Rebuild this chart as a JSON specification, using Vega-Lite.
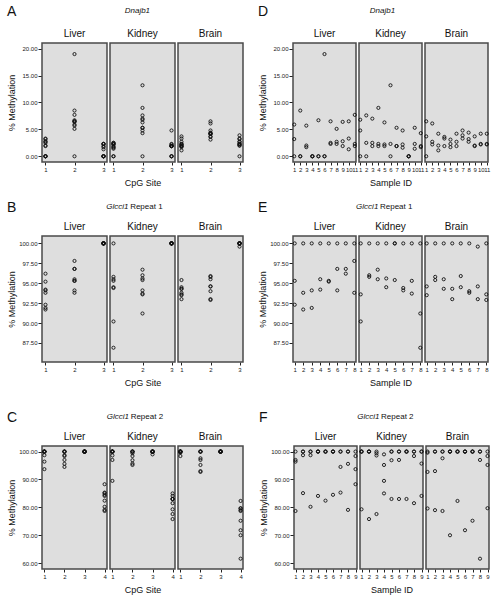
{
"$schema": "https://vega.github.io/schema/vega-lite/v6.json",
"padding": {"left": 7, "top": 5, "right": 0, "bottom": 0},
"background": "white",
"datasets": {
"dn": [
{"t":"Liver","s":1,"c":1,"v":3.2},{"t":"Liver","s":1,"c":2,"v":5.9},{"t":"Liver","s":1,"c":3,"v":0},
{"t":"Liver","s":2,"c":1,"v":0},{"t":"Liver","s":2,"c":2,"v":8.5},{"t":"Liver","s":2,"c":3,"v":0},
{"t":"Liver","s":3,"c":1,"v":2.0},{"t":"Liver","s":3,"c":2,"v":5.7},{"t":"Liver","s":3,"c":3,"v":1.7},
{"t":"Liver","s":4,"c":1,"v":0},{"t":"Liver","s":4,"c":2,"v":0},{"t":"Liver","s":4,"c":3,"v":0},
{"t":"Liver","s":5,"c":1,"v":0},{"t":"Liver","s":5,"c":2,"v":6.7},{"t":"Liver","s":5,"c":3,"v":0},
{"t":"Liver","s":6,"c":1,"v":0},{"t":"Liver","s":6,"c":2,"v":19.0},{"t":"Liver","s":6,"c":3,"v":0},
{"t":"Liver","s":7,"c":1,"v":2.5},{"t":"Liver","s":7,"c":2,"v":6.5},{"t":"Liver","s":7,"c":3,"v":2.3},
{"t":"Liver","s":8,"c":1,"v":2.7},{"t":"Liver","s":8,"c":2,"v":5.1},{"t":"Liver","s":8,"c":3,"v":2.3},
{"t":"Liver","s":9,"c":1,"v":2.8},{"t":"Liver","s":9,"c":2,"v":6.4},{"t":"Liver","s":9,"c":3,"v":1.9},
{"t":"Liver","s":10,"c":1,"v":3.3},{"t":"Liver","s":10,"c":2,"v":6.5},{"t":"Liver","s":10,"c":3,"v":1.3},
{"t":"Liver","s":11,"c":1,"v":1.9},{"t":"Liver","s":11,"c":2,"v":7.7},{"t":"Liver","s":11,"c":3,"v":2.3},
{"t":"Kidney","s":1,"c":1,"v":0},{"t":"Kidney","s":1,"c":2,"v":6.8},{"t":"Kidney","s":1,"c":3,"v":4.8},
{"t":"Kidney","s":2,"c":1,"v":2.5},{"t":"Kidney","s":2,"c":2,"v":7.6},{"t":"Kidney","s":2,"c":3,"v":0},
{"t":"Kidney","s":3,"c":1,"v":2.5},{"t":"Kidney","s":3,"c":2,"v":7.0},{"t":"Kidney","s":3,"c":3,"v":1.9},
{"t":"Kidney","s":4,"c":1,"v":2.3},{"t":"Kidney","s":4,"c":2,"v":9.0},{"t":"Kidney","s":4,"c":3,"v":1.9},
{"t":"Kidney","s":5,"c":1,"v":2.2},{"t":"Kidney","s":5,"c":2,"v":6.3},{"t":"Kidney","s":5,"c":3,"v":1.9},
{"t":"Kidney","s":6,"c":1,"v":2.3},{"t":"Kidney","s":6,"c":2,"v":13.2},{"t":"Kidney","s":6,"c":3,"v":0},
{"t":"Kidney","s":7,"c":1,"v":1.9},{"t":"Kidney","s":7,"c":2,"v":5.3},{"t":"Kidney","s":7,"c":3,"v":1.9},
{"t":"Kidney","s":8,"c":1,"v":1.6},{"t":"Kidney","s":8,"c":2,"v":4.8},{"t":"Kidney","s":8,"c":3,"v":2.2},
{"t":"Kidney","s":9,"c":1,"v":0},{"t":"Kidney","s":9,"c":2,"v":0},{"t":"Kidney","s":9,"c":3,"v":0},
{"t":"Kidney","s":10,"c":1,"v":1.4},{"t":"Kidney","s":10,"c":2,"v":5.3},{"t":"Kidney","s":10,"c":3,"v":2.3},
{"t":"Kidney","s":11,"c":1,"v":1.7},{"t":"Kidney","s":11,"c":2,"v":4.3},{"t":"Kidney","s":11,"c":3,"v":1.9},
{"t":"Brain","s":1,"c":1,"v":3.7},{"t":"Brain","s":1,"c":2,"v":6.5},{"t":"Brain","s":1,"c":3,"v":0},
{"t":"Brain","s":2,"c":1,"v":2.2},{"t":"Brain","s":2,"c":2,"v":6.1},{"t":"Brain","s":2,"c":3,"v":2.7},
{"t":"Brain","s":3,"c":1,"v":1.1},{"t":"Brain","s":3,"c":2,"v":4.2},{"t":"Brain","s":3,"c":3,"v":2.0},
{"t":"Brain","s":4,"c":1,"v":1.9},{"t":"Brain","s":4,"c":2,"v":3.6},{"t":"Brain","s":4,"c":3,"v":3.3},
{"t":"Brain","s":5,"c":1,"v":1.7},{"t":"Brain","s":5,"c":2,"v":3.1},{"t":"Brain","s":5,"c":3,"v":2.3},
{"t":"Brain","s":6,"c":1,"v":1.9},{"t":"Brain","s":6,"c":2,"v":4.2},{"t":"Brain","s":6,"c":3,"v":2.7},
{"t":"Brain","s":7,"c":1,"v":3.3},{"t":"Brain","s":7,"c":2,"v":4.8},{"t":"Brain","s":7,"c":3,"v":3.9},
{"t":"Brain","s":8,"c":1,"v":2.7},{"t":"Brain","s":8,"c":2,"v":4.4},{"t":"Brain","s":8,"c":3,"v":3.2},
{"t":"Brain","s":9,"c":1,"v":1.9},{"t":"Brain","s":9,"c":2,"v":3.7},{"t":"Brain","s":9,"c":3,"v":2.0},
{"t":"Brain","s":10,"c":1,"v":2.2},{"t":"Brain","s":10,"c":2,"v":4.2},{"t":"Brain","s":10,"c":3,"v":2.3},
{"t":"Brain","s":11,"c":1,"v":2.3},{"t":"Brain","s":11,"c":2,"v":4.2},{"t":"Brain","s":11,"c":3,"v":2.2}
],
"r1": [
{"t":"Liver","s":1,"c":1,"v":92.3},{"t":"Liver","s":1,"c":2,"v":95.3},{"t":"Liver","s":1,"c":3,"v":100},
{"t":"Liver","s":2,"c":1,"v":91.7},{"t":"Liver","s":2,"c":2,"v":93.8},{"t":"Liver","s":2,"c":3,"v":100},
{"t":"Liver","s":3,"c":1,"v":91.9},{"t":"Liver","s":3,"c":2,"v":94.1},{"t":"Liver","s":3,"c":3,"v":100},
{"t":"Liver","s":4,"c":1,"v":94.2},{"t":"Liver","s":4,"c":2,"v":95.5},{"t":"Liver","s":4,"c":3,"v":100},
{"t":"Liver","s":5,"c":1,"v":95.2},{"t":"Liver","s":5,"c":2,"v":95.3},{"t":"Liver","s":5,"c":3,"v":100},
{"t":"Liver","s":6,"c":1,"v":94.1},{"t":"Liver","s":6,"c":2,"v":96.8},{"t":"Liver","s":6,"c":3,"v":100},
{"t":"Liver","s":7,"c":1,"v":96.2},{"t":"Liver","s":7,"c":2,"v":96.8},{"t":"Liver","s":7,"c":3,"v":100},
{"t":"Liver","s":8,"c":1,"v":93.8},{"t":"Liver","s":8,"c":2,"v":97.8},{"t":"Liver","s":8,"c":3,"v":100},
{"t":"Kidney","s":1,"c":1,"v":90.2},{"t":"Kidney","s":1,"c":2,"v":93.6},{"t":"Kidney","s":1,"c":3,"v":100},
{"t":"Kidney","s":2,"c":1,"v":95.8},{"t":"Kidney","s":2,"c":2,"v":96.0},{"t":"Kidney","s":2,"c":3,"v":100},
{"t":"Kidney","s":3,"c":1,"v":95.5},{"t":"Kidney","s":3,"c":2,"v":96.7},{"t":"Kidney","s":3,"c":3,"v":100},
{"t":"Kidney","s":4,"c":1,"v":94.5},{"t":"Kidney","s":4,"c":2,"v":95.6},{"t":"Kidney","s":4,"c":3,"v":100},
{"t":"Kidney","s":5,"c":1,"v":100},{"t":"Kidney","s":5,"c":2,"v":95.4},{"t":"Kidney","s":5,"c":3,"v":100},
{"t":"Kidney","s":6,"c":1,"v":94.4},{"t":"Kidney","s":6,"c":2,"v":94.1},{"t":"Kidney","s":6,"c":3,"v":100},
{"t":"Kidney","s":7,"c":1,"v":95.3},{"t":"Kidney","s":7,"c":2,"v":93.7},{"t":"Kidney","s":7,"c":3,"v":100},
{"t":"Kidney","s":8,"c":1,"v":86.9},{"t":"Kidney","s":8,"c":2,"v":91.2},{"t":"Kidney","s":8,"c":3,"v":100},
{"t":"Brain","s":1,"c":1,"v":93.5},{"t":"Brain","s":1,"c":2,"v":94.6},{"t":"Brain","s":1,"c":3,"v":100},
{"t":"Brain","s":2,"c":1,"v":95.4},{"t":"Brain","s":2,"c":2,"v":95.8},{"t":"Brain","s":2,"c":3,"v":100},
{"t":"Brain","s":3,"c":1,"v":94.3},{"t":"Brain","s":3,"c":2,"v":95.5},{"t":"Brain","s":3,"c":3,"v":100},
{"t":"Brain","s":4,"c":1,"v":94.3},{"t":"Brain","s":4,"c":2,"v":93.0},{"t":"Brain","s":4,"c":3,"v":100},
{"t":"Brain","s":5,"c":1,"v":94.5},{"t":"Brain","s":5,"c":2,"v":95.9},{"t":"Brain","s":5,"c":3,"v":100},
{"t":"Brain","s":6,"c":1,"v":93.8},{"t":"Brain","s":6,"c":2,"v":94.0},{"t":"Brain","s":6,"c":3,"v":100},
{"t":"Brain","s":7,"c":1,"v":93.0},{"t":"Brain","s":7,"c":2,"v":94.6},{"t":"Brain","s":7,"c":3,"v":99.6},
{"t":"Brain","s":8,"c":1,"v":93.6},{"t":"Brain","s":8,"c":2,"v":92.9},{"t":"Brain","s":8,"c":3,"v":100}
],
"r2": [
{"t":"Liver","s":1,"c":1,"v":96.4},{"t":"Liver","s":1,"c":2,"v":97.0},{"t":"Liver","s":1,"c":3,"v":100},{"t":"Liver","s":1,"c":4,"v":78.7},
{"t":"Liver","s":2,"c":1,"v":100},{"t":"Liver","s":2,"c":2,"v":98.7},{"t":"Liver","s":2,"c":3,"v":100},{"t":"Liver","s":2,"c":4,"v":85.1},
{"t":"Liver","s":3,"c":1,"v":98.7},{"t":"Liver","s":3,"c":2,"v":100},{"t":"Liver","s":3,"c":3,"v":100},{"t":"Liver","s":3,"c":4,"v":80.2},
{"t":"Liver","s":4,"c":1,"v":100},{"t":"Liver","s":4,"c":2,"v":100},{"t":"Liver","s":4,"c":3,"v":100},{"t":"Liver","s":4,"c":4,"v":84.1},
{"t":"Liver","s":5,"c":1,"v":100},{"t":"Liver","s":5,"c":2,"v":100},{"t":"Liver","s":5,"c":3,"v":100},{"t":"Liver","s":5,"c":4,"v":82.4},
{"t":"Liver","s":6,"c":1,"v":100},{"t":"Liver","s":6,"c":2,"v":100},{"t":"Liver","s":6,"c":3,"v":100},{"t":"Liver","s":6,"c":4,"v":84.5},
{"t":"Liver","s":7,"c":1,"v":100},{"t":"Liver","s":7,"c":2,"v":94.5},{"t":"Liver","s":7,"c":3,"v":100},{"t":"Liver","s":7,"c":4,"v":85.3},
{"t":"Liver","s":8,"c":1,"v":100},{"t":"Liver","s":8,"c":2,"v":95.6},{"t":"Liver","s":8,"c":3,"v":100},{"t":"Liver","s":8,"c":4,"v":79.1},
{"t":"Liver","s":9,"c":1,"v":93.7},{"t":"Liver","s":9,"c":2,"v":98.4},{"t":"Liver","s":9,"c":3,"v":100},{"t":"Liver","s":9,"c":4,"v":88.3},
{"t":"Kidney","s":1,"c":1,"v":100},{"t":"Kidney","s":1,"c":2,"v":100},{"t":"Kidney","s":1,"c":3,"v":100},{"t":"Kidney","s":1,"c":4,"v":79.3},
{"t":"Kidney","s":2,"c":1,"v":100},{"t":"Kidney","s":2,"c":2,"v":100},{"t":"Kidney","s":2,"c":3,"v":100},{"t":"Kidney","s":2,"c":4,"v":75.8},
{"t":"Kidney","s":3,"c":1,"v":98.6},{"t":"Kidney","s":3,"c":2,"v":99.4},{"t":"Kidney","s":3,"c":3,"v":100},{"t":"Kidney","s":3,"c":4,"v":77.6},
{"t":"Kidney","s":4,"c":1,"v":89.5},{"t":"Kidney","s":4,"c":2,"v":95.2},{"t":"Kidney","s":4,"c":3,"v":99.0},{"t":"Kidney","s":4,"c":4,"v":85.0},
{"t":"Kidney","s":5,"c":1,"v":100},{"t":"Kidney","s":5,"c":2,"v":96.9},{"t":"Kidney","s":5,"c":3,"v":100},{"t":"Kidney","s":5,"c":4,"v":83.0},
{"t":"Kidney","s":6,"c":1,"v":97.0},{"t":"Kidney","s":6,"c":2,"v":100},{"t":"Kidney","s":6,"c":3,"v":100},{"t":"Kidney","s":6,"c":4,"v":83.0},
{"t":"Kidney","s":7,"c":1,"v":100},{"t":"Kidney","s":7,"c":2,"v":100},{"t":"Kidney","s":7,"c":3,"v":100},{"t":"Kidney","s":7,"c":4,"v":83.0},
{"t":"Kidney","s":8,"c":1,"v":100},{"t":"Kidney","s":8,"c":2,"v":98.4},{"t":"Kidney","s":8,"c":3,"v":100},{"t":"Kidney","s":8,"c":4,"v":81.5},
{"t":"Kidney","s":9,"c":1,"v":100},{"t":"Kidney","s":9,"c":2,"v":95.7},{"t":"Kidney","s":9,"c":3,"v":100},{"t":"Kidney","s":9,"c":4,"v":84.1},
{"t":"Brain","s":1,"c":1,"v":99.6},{"t":"Brain","s":1,"c":2,"v":92.7},{"t":"Brain","s":1,"c":3,"v":100},{"t":"Brain","s":1,"c":4,"v":79.6},
{"t":"Brain","s":2,"c":1,"v":100},{"t":"Brain","s":2,"c":2,"v":93.0},{"t":"Brain","s":2,"c":3,"v":100},{"t":"Brain","s":2,"c":4,"v":79.0},
{"t":"Brain","s":3,"c":1,"v":100},{"t":"Brain","s":3,"c":2,"v":97.6},{"t":"Brain","s":3,"c":3,"v":100},{"t":"Brain","s":3,"c":4,"v":78.7},
{"t":"Brain","s":4,"c":1,"v":100},{"t":"Brain","s":4,"c":2,"v":100},{"t":"Brain","s":4,"c":3,"v":100},{"t":"Brain","s":4,"c":4,"v":70.0},
{"t":"Brain","s":5,"c":1,"v":100},{"t":"Brain","s":5,"c":2,"v":100},{"t":"Brain","s":5,"c":3,"v":100},{"t":"Brain","s":5,"c":4,"v":82.3},
{"t":"Brain","s":6,"c":1,"v":100},{"t":"Brain","s":6,"c":2,"v":100},{"t":"Brain","s":6,"c":3,"v":100},{"t":"Brain","s":6,"c":4,"v":71.8},
{"t":"Brain","s":7,"c":1,"v":100},{"t":"Brain","s":7,"c":2,"v":100},{"t":"Brain","s":7,"c":3,"v":100},{"t":"Brain","s":7,"c":4,"v":75.2},
{"t":"Brain","s":8,"c":1,"v":100},{"t":"Brain","s":8,"c":2,"v":97.0},{"t":"Brain","s":8,"c":3,"v":100},{"t":"Brain","s":8,"c":4,"v":61.6},
{"t":"Brain","s":9,"c":1,"v":98.4},{"t":"Brain","s":9,"c":2,"v":95.2},{"t":"Brain","s":9,"c":3,"v":100},{"t":"Brain","s":9,"c":4,"v":79.7}
]
},
"vconcat": [
{"vconcat": [
{"hconcat": [
{"title": {"text": "A", "anchor": "start", "frame": "bounds", "fontSize": 14, "dy": 16},
 "vconcat": [{
  "data": {"name": "dn"},
  "title": {"text": "Dnajb1", "fontStyle": "italic", "fontSize": 8, "anchor": "middle", "frame": "bounds", "dx": 12, "offset": 14},
  "facet": {"column": {"field": "t", "type": "nominal", "sort": ["Liver", "Kidney", "Brain"], "title": "CpG Site"}},
  "spacing": 3, "bounds": "flush",
  "spec": {"width": 65, "height": 119,
   "mark": {"type": "point", "shape": "circle", "filled": false, "color": "#111", "size": 10, "strokeWidth": 0.9, "opacity": 1},
   "encoding": {
    "x": {"field": "c", "type": "ordinal", "title": null, "scale": {"type": "point", "padding": 0.12}},
    "y": {"field": "v", "type": "quantitative", "title": "% Methylation", "scale": {"domain": [-1.06, 21.06], "nice": false, "zero": false}, "axis": {"values": [0, 5, 10, 15, 20], "format": ".2f"}}
   }}
 }]},
{"title": {"text": "D", "anchor": "start", "frame": "bounds", "fontSize": 14, "dy": 16},
 "vconcat": [{
  "data": {"name": "dn"},
  "title": {"text": "Dnajb1", "fontStyle": "italic", "fontSize": 8, "anchor": "middle", "frame": "bounds", "dx": 8, "offset": 14},
  "facet": {"column": {"field": "t", "type": "nominal", "sort": ["Liver", "Kidney", "Brain"], "title": "Sample ID"}},
  "spacing": 3, "bounds": "flush",
  "spec": {"width": 63, "height": 119,
   "mark": {"type": "point", "shape": "circle", "filled": false, "color": "#111", "size": 10, "strokeWidth": 0.9, "opacity": 1},
   "encoding": {
    "x": {"field": "s", "type": "ordinal", "title": null, "scale": {"type": "point", "padding": 0.2}},
    "y": {"field": "v", "type": "quantitative", "title": "% Methylation", "scale": {"domain": [-1.06, 21.06], "nice": false, "zero": false}, "axis": {"values": [0, 5, 10, 15, 20], "format": ".2f"}}
   }}
 }]}
], "spacing": 14},
{"hconcat": [
{"title": {"text": "B", "anchor": "start", "frame": "bounds", "fontSize": 14, "dy": 16},
 "vconcat": [{
  "title": {"text": "Repeat 1", "fontSize": 8, "anchor": "middle", "frame": "bounds", "dx": 21, "dy": 12, "offset": 4},
  "vconcat": [{
  "data": {"name": "r1"},
  "title": {"text": "Glcci1", "fontStyle": "italic", "fontSize": 8, "anchor": "middle", "frame": "bounds", "dx": -8, "offset": 11},
  "facet": {"column": {"field": "t", "type": "nominal", "sort": ["Liver", "Kidney", "Brain"], "title": "CpG Site"}},
  "spacing": 3, "bounds": "flush",
  "spec": {"width": 65, "height": 126,
   "mark": {"type": "point", "shape": "circle", "filled": false, "color": "#111", "size": 10, "strokeWidth": 0.9, "opacity": 1},
   "encoding": {
    "x": {"field": "c", "type": "ordinal", "title": null, "scale": {"type": "point", "padding": 0.12}},
    "y": {"field": "v", "type": "quantitative", "title": "% Methylation", "scale": {"domain": [85.11, 100.93], "nice": false, "zero": false}, "axis": {"values": [87.5, 90, 92.5, 95, 97.5, 100], "format": ".2f"}}
   }}
  }]}
 ]},
{"title": {"text": "E", "anchor": "start", "frame": "bounds", "fontSize": 14, "dy": 16},
 "vconcat": [{
  "title": {"text": "Repeat 1", "fontSize": 8, "anchor": "middle", "frame": "bounds", "dx": 22, "dy": 12, "offset": 4},
  "vconcat": [{
  "data": {"name": "r1"},
  "title": {"text": "Glcci1", "fontStyle": "italic", "fontSize": 8, "anchor": "middle", "frame": "bounds", "dx": -7, "offset": 11},
  "facet": {"column": {"field": "t", "type": "nominal", "sort": ["Liver", "Kidney", "Brain"], "title": "Sample ID"}},
  "spacing": 3, "bounds": "flush",
  "spec": {"width": 63, "height": 126,
   "mark": {"type": "point", "shape": "circle", "filled": false, "color": "#111", "size": 10, "strokeWidth": 0.9, "opacity": 1},
   "encoding": {
    "x": {"field": "s", "type": "ordinal", "title": null, "scale": {"type": "point", "padding": 0.2}},
    "y": {"field": "v", "type": "quantitative", "title": "% Methylation", "scale": {"domain": [85.11, 100.93], "nice": false, "zero": false}, "axis": {"values": [87.5, 90, 92.5, 95, 97.5, 100], "format": ".2f"}}
   }}
  }]}
 ]}
], "spacing": 14}
], "spacing": 13},
{"hconcat": [
{"title": {"text": "C", "anchor": "start", "frame": "bounds", "fontSize": 14, "dy": 16},
 "vconcat": [{
  "title": {"text": "Repeat 2", "fontSize": 8, "anchor": "middle", "frame": "bounds", "dx": 21, "dy": 12, "offset": 4},
  "vconcat": [{
  "data": {"name": "r2"},
  "title": {"text": "Glcci1", "fontStyle": "italic", "fontSize": 8, "anchor": "middle", "frame": "bounds", "dx": -8, "offset": 11},
  "facet": {"column": {"field": "t", "type": "nominal", "sort": ["Liver", "Kidney", "Brain"], "title": "CpG Site"}},
  "spacing": 3, "bounds": "flush",
  "spec": {"width": 65, "height": 123,
   "mark": {"type": "point", "shape": "circle", "filled": false, "color": "#111", "size": 10, "strokeWidth": 0.9, "opacity": 1},
   "encoding": {
    "x": {"field": "c", "type": "ordinal", "title": null, "scale": {"type": "point", "padding": 0.12}},
    "y": {"field": "v", "type": "quantitative", "title": "% Methylation", "scale": {"domain": [57.9, 102.0], "nice": false, "zero": false}, "axis": {"values": [60, 70, 80, 90, 100], "format": ".2f"}}
   }}
  }]}
 ]},
{"title": {"text": "F", "anchor": "start", "frame": "bounds", "fontSize": 14, "dy": 16},
 "vconcat": [{
  "title": {"text": "Repeat 2", "fontSize": 8, "anchor": "middle", "frame": "bounds", "dx": 22, "dy": 12, "offset": 4},
  "vconcat": [{
  "data": {"name": "r2"},
  "title": {"text": "Glcci1", "fontStyle": "italic", "fontSize": 8, "anchor": "middle", "frame": "bounds", "dx": -7, "offset": 11},
  "facet": {"column": {"field": "t", "type": "nominal", "sort": ["Liver", "Kidney", "Brain"], "title": "Sample ID"}},
  "spacing": 3, "bounds": "flush",
  "spec": {"width": 63, "height": 123,
   "mark": {"type": "point", "shape": "circle", "filled": false, "color": "#111", "size": 10, "strokeWidth": 0.9, "opacity": 1},
   "encoding": {
    "x": {"field": "s", "type": "ordinal", "title": null, "scale": {"type": "point", "padding": 0.2}},
    "y": {"field": "v", "type": "quantitative", "title": "% Methylation", "scale": {"domain": [57.9, 102.0], "nice": false, "zero": false}, "axis": {"values": [60, 70, 80, 90, 100], "format": ".2f"}}
   }}
  }]}
 ]}
], "spacing": 14}
],
"spacing": 23,
"config": {
 "font": "Liberation Sans",
 "view": {"fill": "#dedede", "stroke": "#4a4a4a", "strokeWidth": 1.5},
 "axis": {"grid": false, "domain": false, "tickColor": "#222", "labelColor": "#222", "titleColor": "#111", "labelFontSize": 6, "titleFontSize": 9, "titleFontWeight": "normal", "tickSize": 4, "labelPadding": 1},
 "axisY": {"minExtent": 24, "maxExtent": 24, "titlePadding": 2},
 "axisX": {"labelAngle": 0, "labelOverlap": false, "tickSize": 3},
 "header": {"labelFontSize": 10, "labelPadding": 4, "labelColor": "#111", "labelOrient": "top", "titleOrient": "bottom", "titleFontSize": 9, "titleFontWeight": "normal", "titleColor": "#111", "titlePadding": -3},
 "title": {"fontWeight": "normal", "color": "#111", "subtitleColor": "#111"}
}
}
